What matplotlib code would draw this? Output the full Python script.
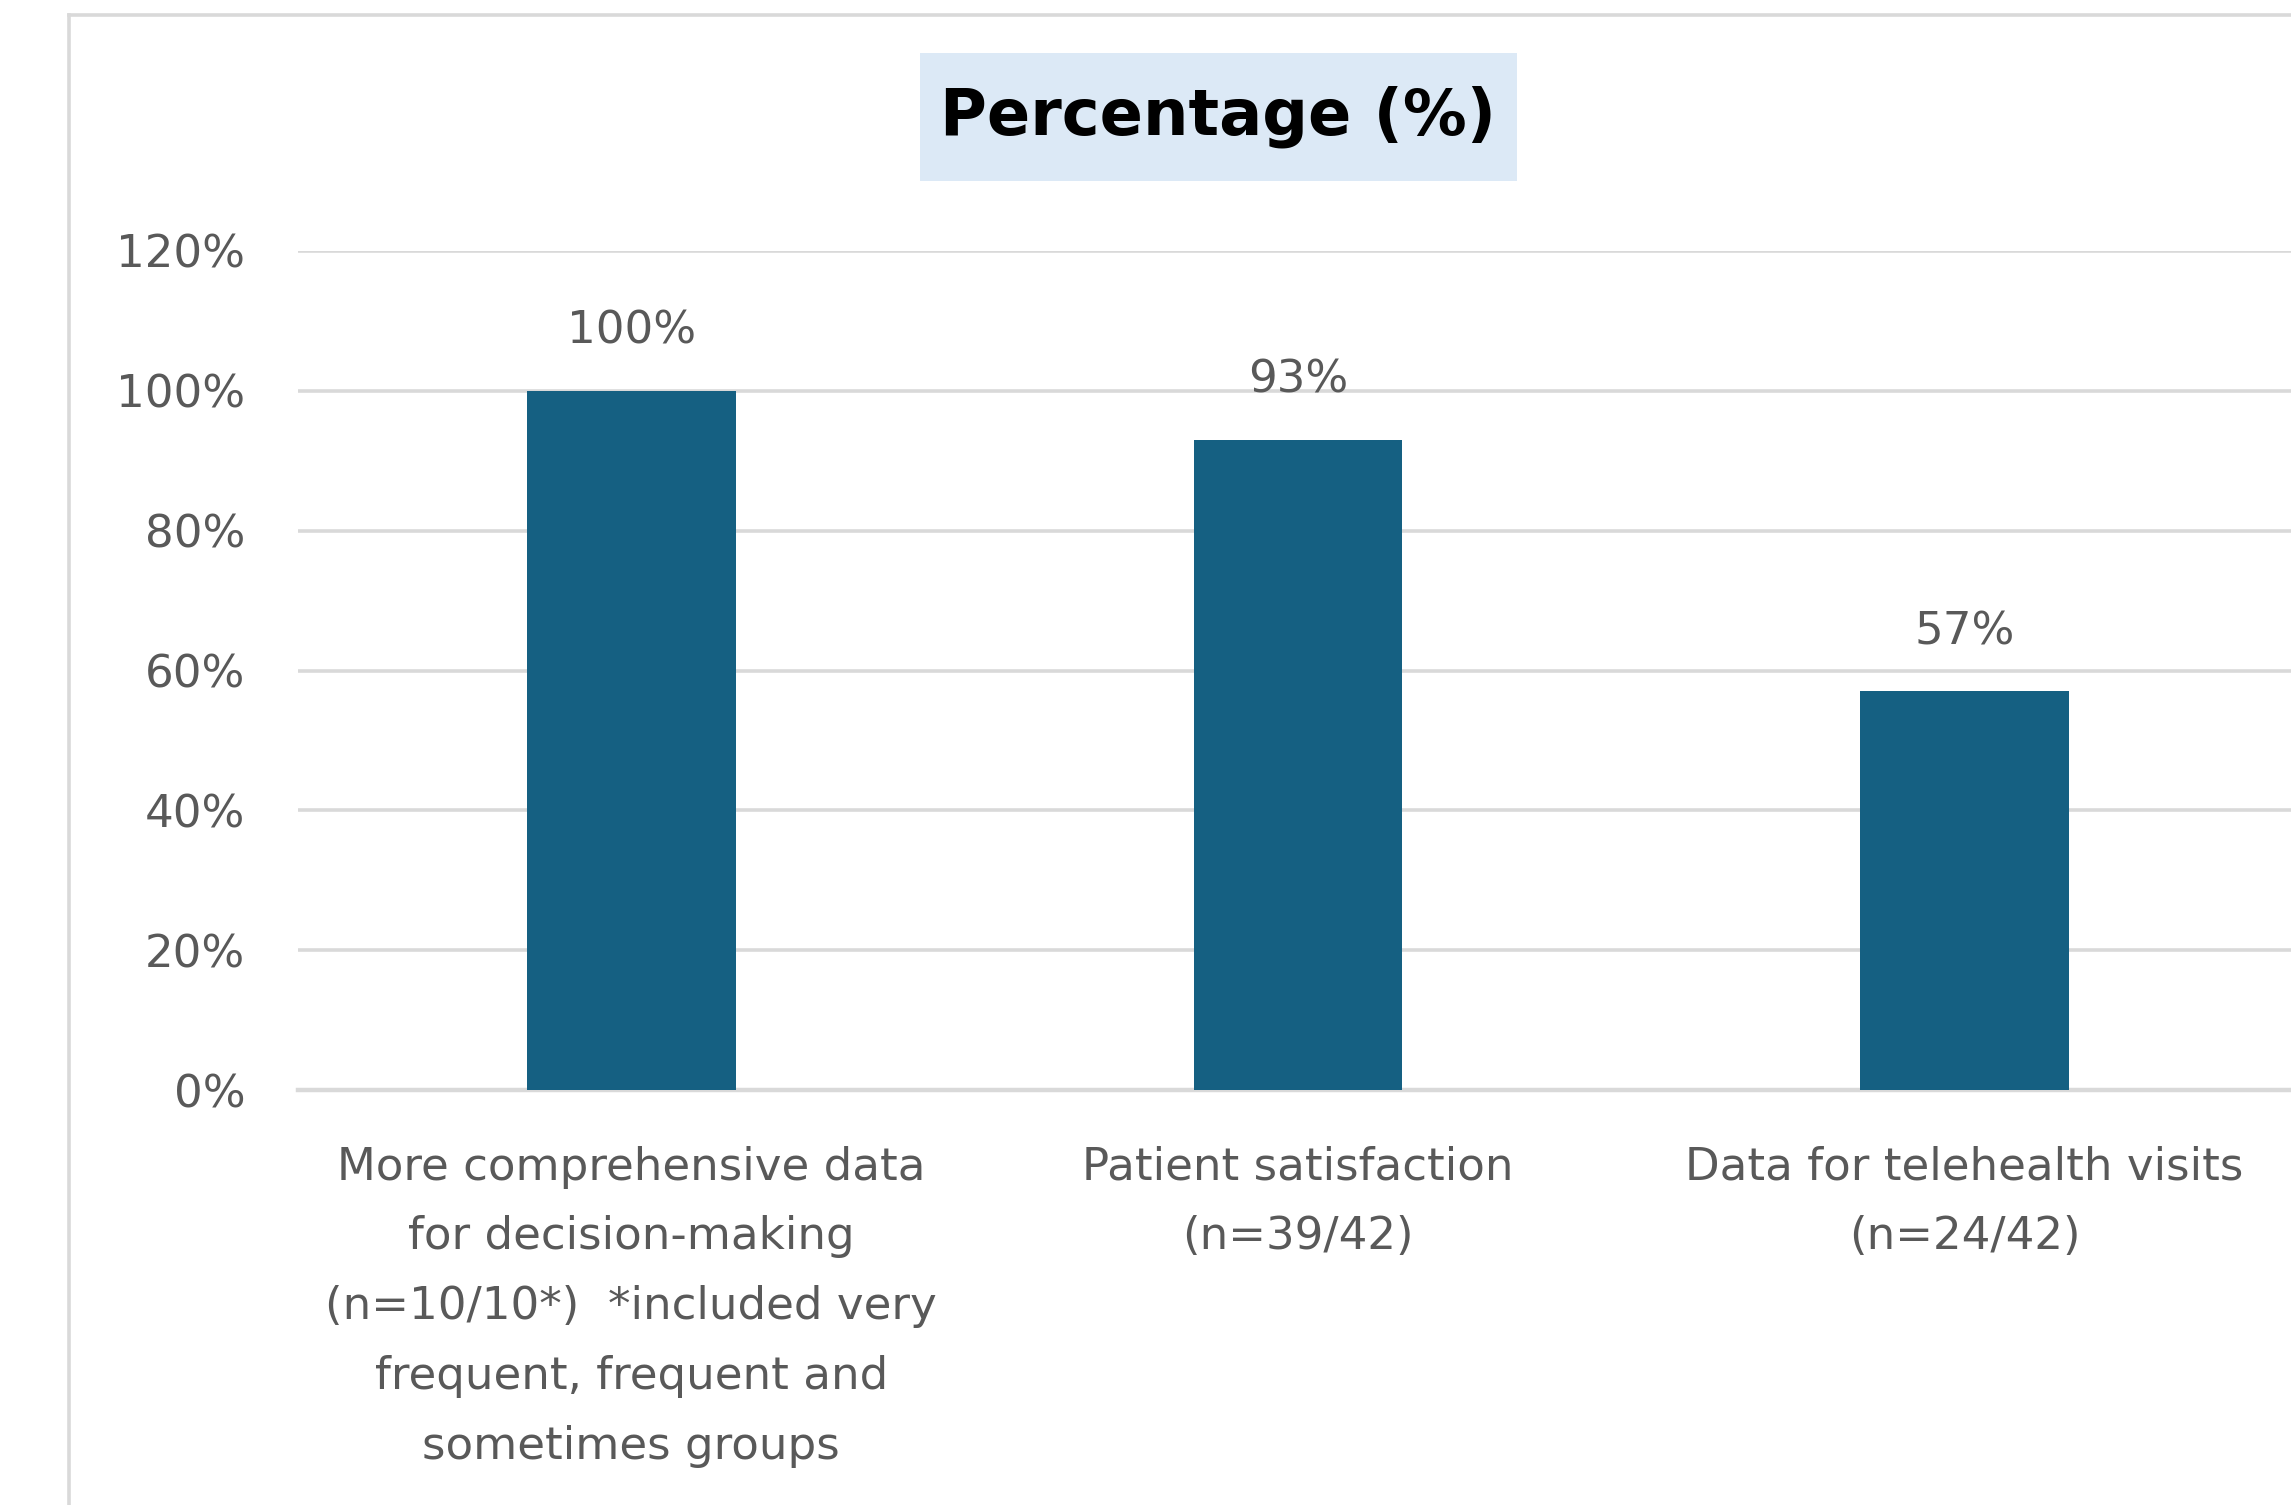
import matplotlib
matplotlib.use("Agg")
import matplotlib.pyplot as plt
from matplotlib.patches import Rectangle
from matplotlib.lines import Line2D
from matplotlib.ticker import PercentFormatter

categories = [
    "More comprehensive data\nfor decision-making\n(n=10/10*)  *included very\nfrequent, frequent and\nsometimes groups",
    "Patient satisfaction\n(n=39/42)",
    "Data for telehealth visits\n(n=24/42)",
]
values = [1.00, 0.93, 0.57]
value_labels = ["100%", "93%", "57%"]
yticks = [0, 0.2, 0.4, 0.6, 0.8, 1.0, 1.2]
title = "Percentage (%)"

W, H = 2291, 1505
fig = plt.figure(figsize=(W / 100, H / 100), dpi=100)
fig.patch.set_facecolor("white")

TEXT = "#595959"
GRID = "#D9D9D9"
BAR = "#156082"
FS = 32.5

# chart frame border (partially visible)
fig.add_artist(Line2D([69 / W, 1.0], [1 - 15 / H, 1 - 15 / H], color=GRID, lw=2.6))
fig.add_artist(Line2D([69 / W, 69 / W], [0.0, 1 - 15 / H], color=GRID, lw=2.6))

# title box
fig.add_artist(Rectangle((920 / W, 1 - 181 / H), 597 / W, 128 / H,
                         transform=fig.transFigure, facecolor="#DCE9F6", edgecolor="none"))
fig.text((920 + 597 / 2) / W, 1 - 117 / H, title, ha="center", va="center",
         fontsize=46, fontweight="bold", color="black")

ax = fig.add_axes([298 / W, 415 / H, 2000 / W, 839 / H])
x = list(range(len(categories)))
ax.bar(x, values, width=0.313, color=BAR, zorder=3)
ax.set_xlim(-0.5, 2.5)
ax.set_ylim(0, 1.2)
ax.set_yticks(yticks)
ax.yaxis.set_major_formatter(PercentFormatter(1.0, decimals=0))
ax.grid(axis="y", color=GRID, lw=2.6, zorder=0)
ax.set_axisbelow(True)
for s in ax.spines.values():
    s.set_visible(False)
ax.axhline(0, color=GRID, lw=3.2, zorder=2, clip_on=False)
ax.tick_params(axis="y", length=0, pad=38, labelsize=FS, labelcolor=TEXT)
ax.tick_params(axis="x", length=0, pad=40, labelsize=FS, labelcolor=TEXT)
ax.set_xticks(x)
ax.set_xticklabels(categories, linespacing=1.79, ha="center", va="top")

for xi, v, lab in zip(x, values, value_labels):
    ax.annotate(lab, (xi, v), xytext=(0, 43), textcoords="offset points",
                ha="center", va="center", fontsize=FS, color=TEXT)

fig.savefig("out.png", dpi=100, facecolor="white")
